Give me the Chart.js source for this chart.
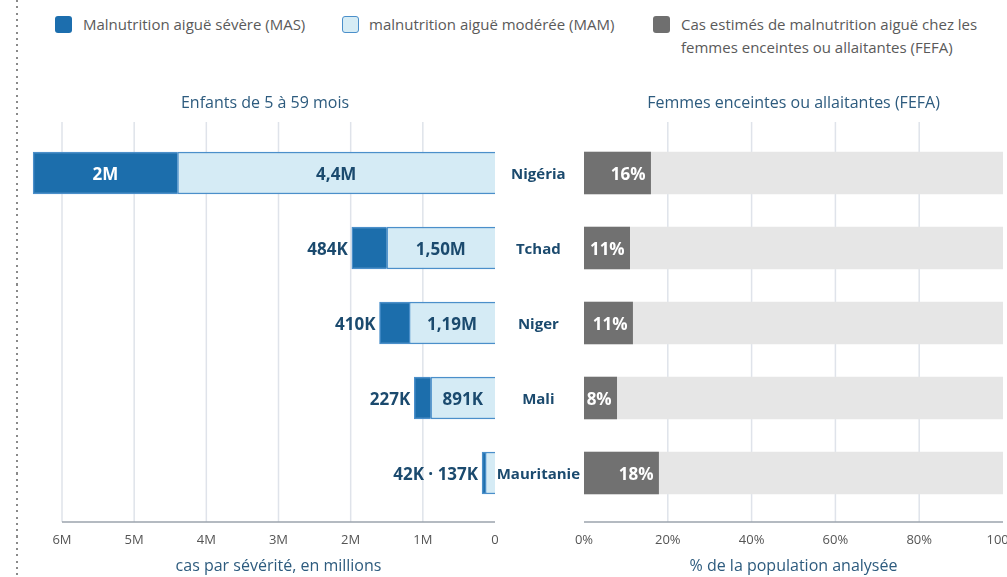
<!DOCTYPE html>
<html>
<head>
<meta charset="utf-8">
<script src="https://cdn.jsdelivr.net/npm/chart.js@4.4.1/dist/chart.umd.min.js"></script>
<style>
  html, body { margin: 0; padding: 0; background: #fff; overflow: hidden; }
  body { width: 1007px; height: 577px; position: relative; font-family: "Open Sans", sans-serif; }
  .dots { position: absolute; left: 16px; top: 0; width: 2px; height: 577px;
          background: repeating-linear-gradient(to bottom, #8a8a8a 0 2px, transparent 2px 6.3px); }
  .paren { position: absolute; left: -6px; font: bold 16px "Open Sans"; color: #1d4a6c; }
  .sq { position: absolute; top: 16px; width: 17px; height: 17px; border-radius: 3px; box-sizing: border-box; }
  .lg { position: absolute; top: 13px; font-size: 15px; line-height: 23px; color: #5a5a5a; }
  canvas { position: absolute; top: 80px; }
</style>
</head>
<body>
<div class="dots"></div>
<div class="paren" style="top:143px">)</div>
<div class="paren" style="top:253px">)</div>
<div class="paren" style="top:281px">)</div>

<div class="sq" style="left:55px;background:#1c6eae"></div>
<div class="lg" style="left:83px">Malnutrition aiguë sévère (MAS)</div>
<div class="sq" style="left:342px;background:#d6ecf5;border:1.5px solid #4b8fca"></div>
<div class="lg" style="left:369px">malnutrition aiguë modérée (MAM)</div>
<div class="sq" style="left:653px;background:#6f6f6f"></div>
<div class="lg" style="left:681px">Cas estimés de malnutrition aiguë chez les<br>femmes enceintes ou allaitantes (FEFA)</div>

<canvas id="left" width="530" height="497" style="left:0"></canvas>
<canvas id="right" width="598" height="497" style="left:497px"></canvas>

<script>
// données
const countries = ['Nigéria', 'Tchad', 'Niger', 'Mali', 'Mauritanie'];
const masValues = [2.0, 0.484, 0.410, 0.227, 0.042];   // millions
const mamValues = [4.4, 1.50, 1.19, 0.891, 0.137];     // millions
const masLabels = ['2M', '484K', '410K', '227K', '42K'];
const mamLabels = ['4,4M', '1,50M', '1,19M', '891K', '137K'];
const fefaValues = [15.9, 10.9, 11.6, 7.8, 17.8];      // %
const fefaLabels = ['16%', '11%', '11%', '8%', '18%'];
const trackValues = [100, 100, 100, 100, 100];
const leftTickLabels = ['0', '1M', '2M', '3M', '4M', '5M', '6M'];
const rightTickLabels = { 0: '0%', 20: '20%', 40: '40%', 60: '60%', 80: '80%', 100: '100%' };

const NAVY = '#1b4a6e';
const TITLE = '#2d5b7e';
const FONT = '"Open Sans", sans-serif';

// grille verticale qui dépasse un peu la zone des barres + ligne d'axe
const gridPlugin = {
  id: 'extGrid',
  beforeDatasetsDraw(chart, args, opts) {
    const { ctx, chartArea: a, scales: { x } } = chart;
    ctx.save();
    ctx.strokeStyle = '#dfe3ea';
    ctx.lineWidth = 1.5;
    x.ticks.forEach(t => {
      if (opts.skip.includes(t.value)) return;
      const px = x.getPixelForValue(t.value);
      ctx.beginPath();
      ctx.moveTo(px, a.top - 13.5);
      ctx.lineTo(px, a.bottom + 11.5);
      ctx.stroke();
    });
    ctx.strokeStyle = '#9ba3ad';
    ctx.beginPath();
    ctx.moveTo(a.left, a.bottom + 11.5);
    ctx.lineTo(a.right, a.bottom + 11.5);
    ctx.stroke();
    ctx.restore();
  }
};

const leftLabels = {
  id: 'leftLabels',
  afterDatasetsDraw(chart) {
    const ctx = chart.ctx;
    const light = chart.getDatasetMeta(0).data;
    const dark = chart.getDatasetMeta(1).data;
    ctx.save();
    ctx.font = 'bold 17px ' + FONT;
    ctx.textBaseline = 'middle';
    countries.forEach((c, i) => {
      const d = dark[i], l = light[i];
      const dW = Math.abs(d.base - d.x), lW = Math.abs(l.base - l.x);
      const lightInside = lW >= 50;
      if (lightInside) {
        ctx.fillStyle = NAVY;
        ctx.textAlign = 'center';
        ctx.fillText(mamLabels[i], (l.x + l.base) / 2, l.y + 2);
      }
      if (dW >= 60) {
        ctx.fillStyle = '#fff';
        ctx.textAlign = 'center';
        ctx.fillText(masLabels[i], (d.x + d.base) / 2, d.y + 2);
      } else {
        const txt = lightInside ? masLabels[i] : masLabels[i] + ' · ' + mamLabels[i];
        ctx.fillStyle = NAVY;
        ctx.textAlign = 'right';
        ctx.fillText(txt, Math.min(d.x, d.base) - 4, d.y + 2);
      }
    });
    ctx.restore();
  }
};

const rightLabels = {
  id: 'rightLabels',
  afterDatasetsDraw(chart) {
    const ctx = chart.ctx;
    const bars = chart.getDatasetMeta(0).data;
    ctx.save();
    ctx.font = 'bold 17px ' + FONT;
    ctx.textBaseline = 'middle';
    ctx.textAlign = 'right';
    ctx.fillStyle = '#fff';
    bars.forEach((b, i) => ctx.fillText(fefaLabels[i], b.x - 5, b.y + 2));
    ctx.restore();
  }
};

const chartTitle = (text, full) => ({
  display: true, text: text, color: TITLE, fullSize: full,
  font: { size: 16, weight: 'normal', family: FONT },
  padding: { top: 14, bottom: 22.3 }
});

const xAxis = (extra) => Object.assign({
  grid: { display: false, drawTicks: false },
  border: { display: false },
  afterFit: s => { s.height = 66.5; }
}, extra);

new Chart(document.getElementById('left'), {
  type: 'bar',
  data: {
    labels: countries,
    datasets: [
      { label: 'MAM', data: mamValues, backgroundColor: '#d5ebf5', borderColor: '#4b8fca',
        borderWidth: 1.5, barThickness: 42, clip: false },
      { label: 'MAS', data: masValues, backgroundColor: '#1c6eac', borderColor: '#4b8fca',
        borderWidth: 1.5, barThickness: 42, clip: false }
    ]
  },
  options: {
    indexAxis: 'y',
    responsive: false,
    animation: false,
    layout: { padding: { left: 35, right: 35, top: 0, bottom: 0 } },
    plugins: {
      legend: { display: false },
      tooltip: { enabled: false },
      title: chartTitle('Enfants de 5 à 59 mois', true),
      extGrid: { skip: [0] }
    },
    scales: {
      x: xAxis({
        stacked: true, reverse: true, min: 0, max: 6,
        ticks: { stepSize: 1, padding: 22, color: '#555', font: { size: 13, family: FONT },
                 callback: v => leftTickLabels[v] },
        title: { display: true, text: 'cas par sévérité, en millions', color: TITLE,
                 font: { size: 16, family: FONT }, padding: { top: 0, bottom: 0.5 } }
      }),
      y: {
        stacked: true,
        grid: { display: false, drawTicks: false },
        border: { display: false },
        ticks: { display: false },
        afterFit: s => { s.width = 27; }
      }
    }
  },
  plugins: [gridPlugin, leftLabels]
});

new Chart(document.getElementById('right'), {
  type: 'bar',
  data: {
    labels: countries,
    datasets: [
      { label: 'FEFA', data: fefaValues, backgroundColor: '#717171', barThickness: 42, grouped: false, order: 0 },
      { label: 'total', data: trackValues, backgroundColor: '#e6e6e6', barThickness: 42, grouped: false, order: 1 }
    ]
  },
  options: {
    indexAxis: 'y',
    responsive: false,
    animation: false,
    layout: { padding: { left: 0, right: 92, top: 0, bottom: 0 } },
    plugins: {
      legend: { display: false },
      tooltip: { enabled: false },
      title: chartTitle('Femmes enceintes ou allaitantes (FEFA)', false),
      extGrid: { skip: [0, 100] }
    },
    scales: {
      x: xAxis({
        min: 0, max: 100,
        ticks: { stepSize: 20, padding: 22, color: '#555', font: { size: 13, family: FONT },
                 callback: v => rightTickLabels[v] },
        title: { display: true, text: '% de la population analysée', color: TITLE,
                 font: { size: 16, family: FONT }, padding: { top: 0, bottom: 0.5 } }
      }),
      y: {
        grid: { display: false, drawTicks: false },
        border: { display: false },
        ticks: { crossAlign: 'center', padding: 4, labelOffset: 2, color: NAVY,
                 font: { size: 15, weight: 'bold', family: FONT } },
        afterFit: s => { s.width = 87; }
      }
    }
  },
  plugins: [gridPlugin, rightLabels]
});
</script>
</body>
</html>
